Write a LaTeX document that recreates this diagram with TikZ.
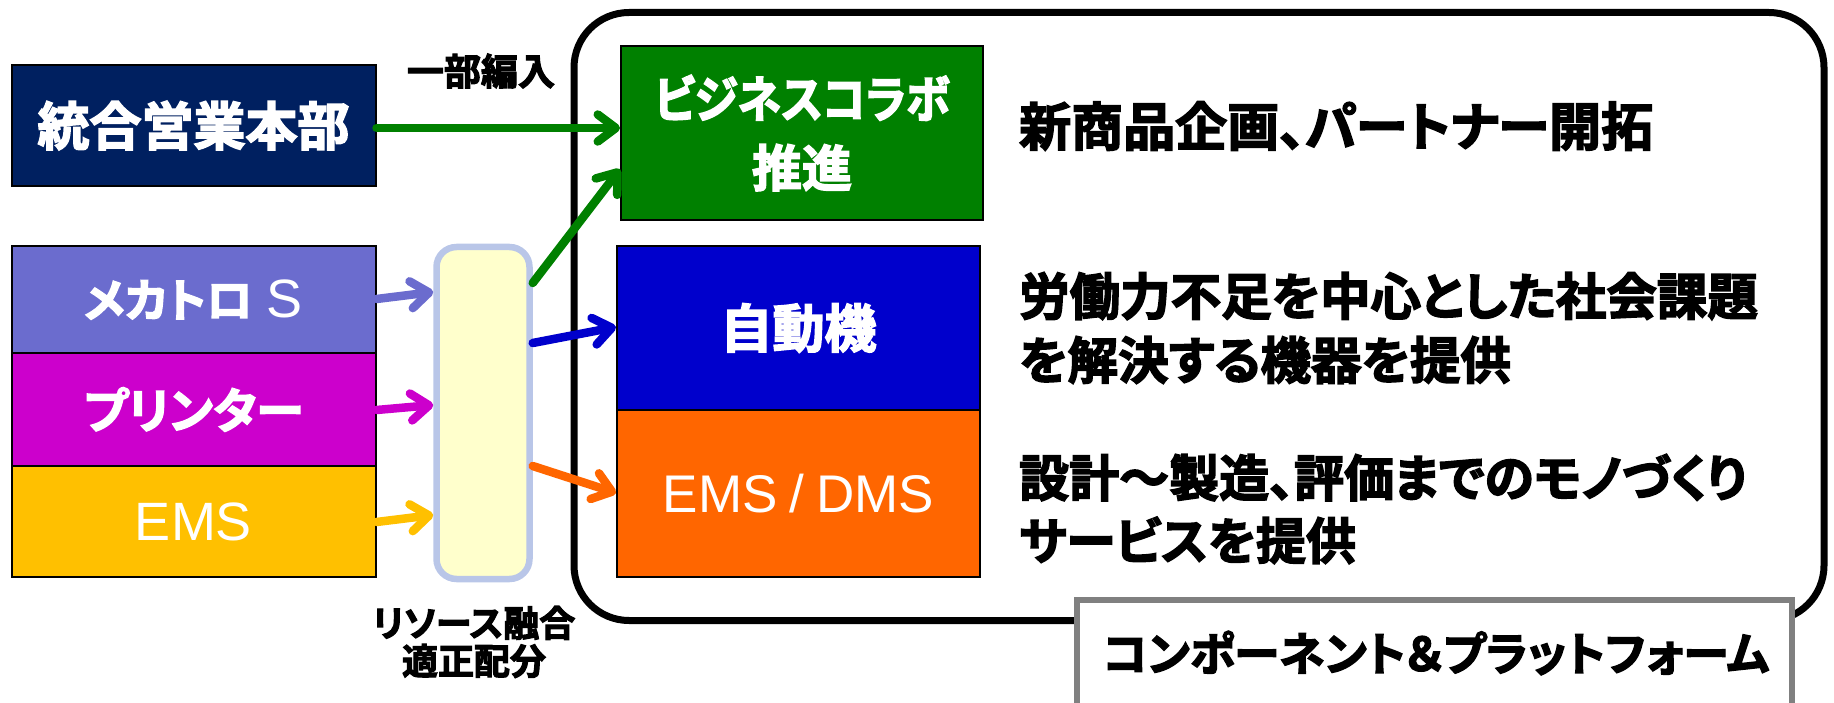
\documentclass[tikz,border=0pt]{standalone}
\usepackage{fontspec}
\setmainfont{Liberation Sans}
\newfontfamily\jp{Noto Sans CJK JP}[BoldFont={* Bold}, BoldFeatures={FakeBold=3}, RawFeature=+palt]
\newfontfamily\jpn{Noto Sans CJK JP}[BoldFont={* Bold}, BoldFeatures={FakeBold=3}, RawFeature=+palt, FakeStretch=0.88]
\usetikzlibrary{arrows.meta,calc}
\definecolor{navy}{RGB}{0,32,96}
\definecolor{bgreen}{RGB}{0,128,0}
\definecolor{bblue}{RGB}{0,0,204}
\definecolor{borange}{RGB}{255,102,0}
\definecolor{mecacol}{RGB}{107,108,206}
\definecolor{magent}{RGB}{204,0,204}
\definecolor{goldcol}{RGB}{255,192,0}
\definecolor{resfill}{RGB}{255,255,204}
\definecolor{resdraw}{RGB}{185,198,232}
\definecolor{lblgray}{RGB}{128,128,128}
\begin{document}
\begin{tikzpicture}[x=1pt,y=-1pt,
  box/.style={draw=black, line width=2pt, inner sep=0pt, text=white, align=center},
  jpbig/.style={font=\jp\bfseries\fontsize{52}{60}\selectfont},
  flowarrow/.style={draw=#1, line width=8.5pt, line cap=round, arrows={-Straight Barb[length=18pt,width=27pt,round]}},
  lbl/.style={inner sep=0pt, text=black, align=left, anchor=west}
]
\useasboundingbox (0,0) rectangle (1834,703);
\clip (0,0) rectangle (1834,703);

% platform frame
\node[draw=black, line width=7pt, rounded corners=55pt, minimum width=1250pt, minimum height=608pt] (platform) at (1199,316.5) {};
\node[draw=lblgray, fill=white, line width=6pt, minimum width=715pt, minimum height=160pt, inner sep=0pt] (plbox) at (1434.5,680) {};
\node[inner sep=0pt, font=\jp\bfseries\fontsize{46}{50}\selectfont] (pltext) at (1436,653) {コンポーネント＆プラットフォーム};

% left boxes
\node[box, fill=navy, minimum width=364pt, minimum height=121pt, jpbig] (honbu) at (193.5,125.5) {統合営業本部};
\node[box, fill=mecacol, minimum width=364pt, minimum height=107pt] (meca) at (193.5,299.5) {{\jp\bfseries\fontsize{46}{52}\selectfont メカトロ}\hspace{14pt}{\fontsize{54}{60}\selectfont S}};
\node[box, fill=magent, minimum width=364pt, minimum height=113pt, font=\jp\bfseries\fontsize{48}{54}\selectfont] (printer) at (193.5,409.5) {プリンター};
\node[box, fill=goldcol, minimum width=364pt, minimum height=111pt, font=\fontsize{54}{60}\selectfont] (ems) at (193.5,521.5) {EMS};

% resource box
\node[draw=resdraw, fill=resfill, line width=6.5pt, rounded corners=20pt, minimum width=93pt, minimum height=332pt] (res) at (483,413) {};
\node[inner sep=0pt, align=center, font=\jp\bfseries\fontsize{36}{38}\selectfont] (restext) at (474,642) {リソース融合\\適正配分};

% right boxes
\node[box, fill=bgreen, minimum width=362pt, minimum height=174pt, font=\jp\bfseries\fontsize{50}{69}\selectfont] (collab) at (802,133) {{\jpn\bfseries ビジネスコラボ}\\推進};
\node[box, fill=bblue, minimum width=363pt, minimum height=164pt, jpbig] (auto) at (798.5,328) {自動機};
\node[box, fill=borange, minimum width=363pt, minimum height=167pt, font=\fontsize{53}{60}\selectfont] (dms) at (798.5,493.5) {EMS\hspace{12pt}/\hspace{12pt}DMS};

% descriptions
\node[lbl, font=\jp\bfseries\fontsize{52}{60}\selectfont] (d1) at (1019,126) {新商品企画、パートナー開拓};
\node[lbl, font=\jp\bfseries\fontsize{50.5}{64}\selectfont] (d2) at (1019,328) {労働力不足を中心とした社会課題\\を解決する機器を提供};
\node[lbl, font=\jp\bfseries\fontsize{50}{63}\selectfont] (d3) at (1019,509) {設計～製造、評価までのモノづくり\\サービスを提供};

% label
\node[inner sep=0pt, font=\jp\bfseries\fontsize{37}{40}\selectfont] (bu) at (481,71) {一部編入};

% connectors
\path[flowarrow=bgreen] ($(honbu.east)+(0,2.5)$) -- ($(collab.west)+(0,-5)$);
\path[flowarrow=mecacol] ($(meca.east)+(0,-0.5)$) -- ($(res.west)+(0,-121)$);
\path[flowarrow=magent] ($(printer.east)+(0,0.5)$) -- ($(res.west)+(0,-8)$);
\path[flowarrow=goldcol] ($(ems.east)+(0,0.5)$) -- ($(res.west)+(0,102)$);
\path[flowarrow=bgreen] ($(res.east)+(0,-130)$) -- ($(collab.south west)+(0,-52)$);
\path[flowarrow=bblue] ($(res.east)+(0,-70)$) -- ($(auto.west)+(0,-1)$);
\path[flowarrow=borange] ($(res.east)+(0,53)$) -- ($(dms.west)+(0,-0.5)$);
\end{tikzpicture}
\end{document}
